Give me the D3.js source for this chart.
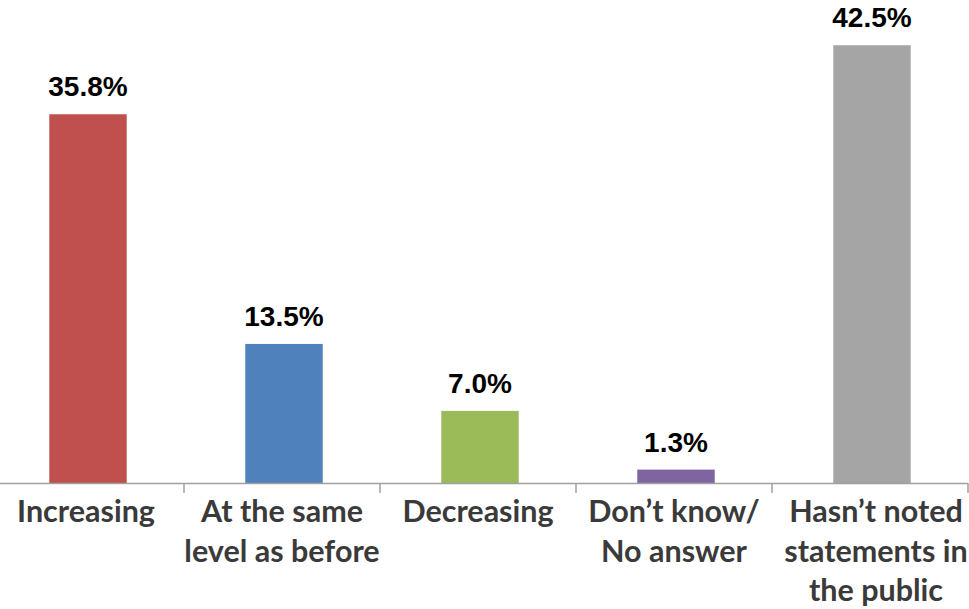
<!DOCTYPE html>
<html><head><meta charset="utf-8">
<script src="https://cdn.jsdelivr.net/npm/d3@7"></script>
<style>html,body{margin:0;padding:0;background:#fff;}</style>
</head><body>
<svg id="chart" width="969" height="609"></svg>
<script>
const categories = ["Increasing", "At the same|level as before", "Decreasing", "Don\u2019t know/|No answer", "Hasn\u2019t noted|statements in|the public"];
const values = [35.8, 13.5, 7.0, 1.3, 42.5];
const valueLabels = ["35.8%", "13.5%", "7.0%", "1.3%", "42.5%"];
const colors = ["#C0504D", "#4F81BD", "#9BBB59", "#8064A2", "#A5A5A5"];

const svg = d3.select("#chart");
const x = d3.scaleBand().domain(categories).range([-10, 970]).paddingInner(0.605).paddingOuter(0.3025);
const y = d3.scaleLinear().domain([0, 45]).range([483, 19.5]);

// bars
svg.selectAll("rect.bar").data(values).join("rect")
  .attr("class", "bar")
  .attr("x", (d, i) => x(categories[i]))
  .attr("width", x.bandwidth())
  .attr("y", d => y(d))
  .attr("height", d => y(0) - y(d))
  .attr("fill", (d, i) => colors[i]);

// value labels
svg.selectAll("text.val").data(values).join("text")
  .attr("class", "val")
  .attr("x", (d, i) => x(categories[i]) + x.bandwidth() / 2)
  .attr("y", d => y(d) - 18)
  .attr("text-anchor", "middle")
  .attr("font-family", "Liberation Sans, Arial, sans-serif")
  .attr("font-weight", "bold")
  .attr("font-size", 28)
  .attr("fill", "#000")
  .text((d, i) => valueLabels[i]);

// axis
const band = d3.scaleBand().domain(categories).range([-12, 968]);
const axisG = svg.append("g");
axisG.append("line").attr("x1", 0).attr("x2", 968).attr("y1", 483.5).attr("y2", 483.5)
  .attr("stroke", "#A0A0A0").attr("stroke-width", 1.5);
axisG.selectAll("line.tick").data(categories).join("line")
  .attr("class", "tick")
  .attr("x1", d => band(d) + band.bandwidth()).attr("x2", d => band(d) + band.bandwidth())
  .attr("y1", 483).attr("y2", 493)
  .attr("stroke", "#A0A0A0").attr("stroke-width", 1.5);

// category labels
const labels = svg.selectAll("text.cat").data(categories).join("text")
  .attr("class", "cat")
  .attr("text-anchor", "middle")
  .attr("font-family", "Lato, 'Open Sans', sans-serif")
  .attr("font-weight", "bold")
  .attr("font-size", 30.5)
  .attr("fill", "#3A3A3A");
labels.each(function(d, k) {
  const lines = d.split("|");
  const cx = band(d) + band.bandwidth() / 2 + (k === 4 ? 6 : 0);
  d3.select(this).selectAll("tspan").data(lines).join("tspan")
    .attr("x", cx)
    .attr("y", (l, i) => 522 + i * 39.5)
    .text(l => l);
});
</script>
</body></html>
